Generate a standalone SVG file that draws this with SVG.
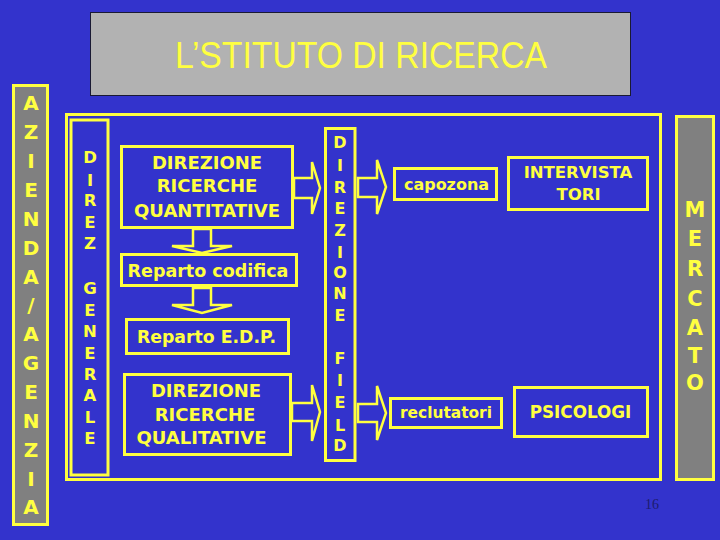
<svg xmlns="http://www.w3.org/2000/svg" width="720" height="540" viewBox="0 0 720 540">
<style>
.bx{fill:#3333cc;stroke:#ffff40;stroke-width:3}
.gbx{fill:#808080;stroke:#ffff40;stroke-width:3}
.t{font-family:"DejaVu Sans",Verdana,sans-serif;font-weight:bold;fill:#ffff40;text-anchor:middle}
.arr{fill:#3333cc;stroke:#ffff40;stroke-width:2.5;stroke-linejoin:miter}
</style>
<rect width="720" height="540" fill="#3333cc"/>
<g id="title">
<rect x="90.5" y="12.5" width="540" height="83" fill="#b2b2b2" stroke="#1a1a33" stroke-width="1"/>
<text x="361" y="68" font-family="'Liberation Sans',Arial,sans-serif" font-size="36" fill="#ffff40" text-anchor="middle" textLength="372" lengthAdjust="spacingAndGlyphs">L’STITUTO DI RICERCA</text>
</g>
<g id="azienda">
<rect class="gbx" x="13.5" y="85.5" width="34" height="439"/>
<text class="t" font-size="20">
<tspan x="31" y="110.3">A</tspan><tspan x="31" y="139.2">Z</tspan><tspan x="31" y="168">I</tspan><tspan x="31" y="196.9">E</tspan><tspan x="31" y="225.7">N</tspan><tspan x="31" y="254.6">D</tspan><tspan x="31" y="283.5">A</tspan><tspan x="31" y="312.3">/</tspan><tspan x="31" y="341.2">A</tspan><tspan x="31" y="370">G</tspan><tspan x="31" y="398.9">E</tspan><tspan x="31" y="427.8">N</tspan><tspan x="31" y="456.6">Z</tspan><tspan x="31" y="485.5">I</tspan><tspan x="31" y="514.3">A</tspan>
</text>
</g>
<g id="istituto">
<rect x="66.5" y="114.5" width="594" height="365" fill="none" stroke="#ffff40" stroke-width="3"/>
</g>
<g id="direz-generale">
<rect class="bx" x="71" y="120" width="37" height="355"/>
<text class="t" font-size="16.5">
<tspan x="90" y="163">D</tspan><tspan x="90" y="185.5">I</tspan><tspan x="90" y="206">R</tspan><tspan x="90" y="228">E</tspan><tspan x="90" y="249">Z</tspan><tspan x="90" y="294">G</tspan><tspan x="90" y="316">E</tspan><tspan x="90" y="337">N</tspan><tspan x="90" y="358.5">E</tspan><tspan x="90" y="380">R</tspan><tspan x="90" y="401">A</tspan><tspan x="90" y="423">L</tspan><tspan x="90" y="444">E</tspan>
</text>
</g>
<g id="quantitative">
<rect class="bx" x="121.5" y="146.5" width="171" height="81"/>
<text class="t" font-size="18"><tspan x="207" y="168.5">DIREZIONE</tspan><tspan x="207" y="191.5">RICERCHE</tspan><tspan x="207" y="216.5">QUANTITATIVE</tspan></text>
</g>
<g id="codifica">
<rect class="bx" x="121.5" y="254.5" width="175" height="31"/>
<text class="t" x="208" y="277" font-size="17.5">Reparto codifica</text>
</g>
<g id="edp">
<rect class="bx" x="126.5" y="319.5" width="162" height="34"/>
<text class="t" x="206.5" y="343" font-size="17.3">Reparto E.D.P.</text>
</g>
<g id="qualitative">
<rect class="bx" x="124.5" y="374.5" width="166" height="80"/>
<text class="t" font-size="18"><tspan x="206" y="396.5">DIREZIONE</tspan><tspan x="205" y="420.5">RICERCHE</tspan><tspan x="201.5" y="443.5">QUALITATIVE</tspan></text>
</g>
<g id="direzione-field">
<rect class="bx" x="325.5" y="128.5" width="29.5" height="332"/>
<text class="t" font-size="16">
<tspan x="340" y="148">D</tspan><tspan x="340" y="170.5">I</tspan><tspan x="340" y="192.5">R</tspan><tspan x="340" y="213.5">E</tspan><tspan x="340" y="235.5">Z</tspan><tspan x="340" y="257.5">I</tspan><tspan x="340" y="278">O</tspan><tspan x="340" y="299">N</tspan><tspan x="340" y="321">E</tspan><tspan x="340" y="364">F</tspan><tspan x="340" y="386">I</tspan><tspan x="340" y="408">E</tspan><tspan x="340" y="430.5">L</tspan><tspan x="340" y="451">D</tspan>
</text>
</g>
<g id="capozona">
<rect class="bx" x="394.5" y="168.5" width="102" height="31"/>
<text class="t" x="446.5" y="190" font-size="16">capozona</text>
</g>
<g id="intervistatori">
<rect class="bx" x="508.5" y="157.5" width="139" height="52"/>
<text class="t" font-size="16.5"><tspan x="578" y="178">INTERVISTA</tspan><tspan x="578.5" y="200">TORI</tspan></text>
</g>
<g id="reclutatori">
<rect class="bx" x="390.5" y="398.5" width="111" height="29"/>
<text class="t" x="446" y="418" font-size="16" textLength="92" lengthAdjust="spacingAndGlyphs">reclutatori</text>
</g>
<g id="psicologi">
<rect class="bx" x="514.5" y="387.5" width="133" height="49"/>
<text class="t" x="580.5" y="418" font-size="16.8">PSICOLOGI</text>
</g>
<g id="mercato">
<rect class="gbx" x="676.5" y="116.5" width="37" height="363"/>
<text class="t" font-size="21">
<tspan x="695" y="216.7">M</tspan><tspan x="695" y="245.7">E</tspan><tspan x="695" y="275.7">R</tspan><tspan x="695" y="305.7">C</tspan><tspan x="695" y="334.7">A</tspan><tspan x="695" y="362.7">T</tspan><tspan x="695" y="389.7">O</tspan>
</text>
</g>
<g id="connectors">
<polygon class="arr" points="193,229 211,229 211,246 232,246 202,253 172,246 193,246"/>
<polygon class="arr" points="193,288 211,288 211,305 232,305 202,313 172,305 193,305"/>
<polygon class="arr" points="294,178 312,178 312,162 320,188 312,214 312,198 294,198"/>
<polygon class="arr" points="358,178 377,178 377,160 386,187 377,214 377,197 358,197"/>
<polygon class="arr" points="292,403 312,403 312,385 320,412 312,441 312,421 292,421"/>
<polygon class="arr" points="358,404 377,404 377,386 386,413 377,440 377,422 358,422"/>
</g>
<text x="652" y="509" font-family="'Liberation Serif','Times New Roman',serif" font-size="14" fill="#1c1c6e" text-anchor="middle">16</text>
</svg>
